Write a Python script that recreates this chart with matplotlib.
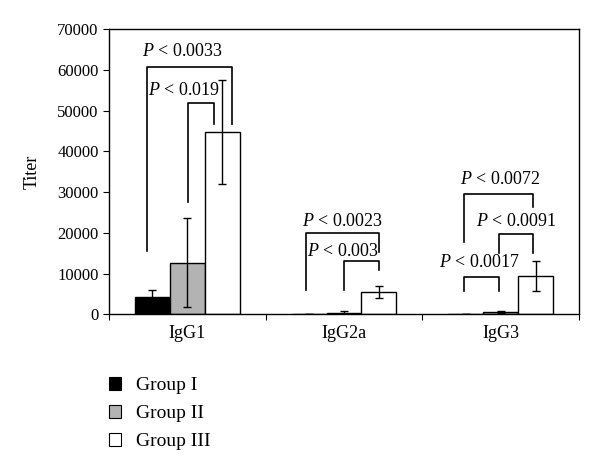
import matplotlib
matplotlib.use("Agg")
import matplotlib.pyplot as plt
from matplotlib.patches import Patch
import numpy as np

plt.rcParams['font.family'] = ['Liberation Serif', 'DejaVu Serif']
plt.rcParams['mathtext.fontset'] = 'custom'
plt.rcParams['mathtext.it'] = 'Liberation Serif:italic'
plt.rcParams['mathtext.rm'] = 'Liberation Serif'

# data
categories = ['IgG1', 'IgG2a', 'IgG3']
groups = ['Group I', 'Group II', 'Group III']
colors = ['#000000', '#b3b3b3', '#ffffff']
titer = {
    'Group I':   [4300, 150, 50],
    'Group II':  [12700, 400, 500],
    'Group III': [44700, 5500, 9500],
}
err = {
    'Group I':   [1700, 0, 0],
    'Group II':  [11000, 300, 300],
    'Group III': [12800, 1500, 3700],
}

# brackets: (x_left, x_right, y_top, y_left_end, y_right_end) in category units
brackets = [
    (0.24, 0.783, 60800, 15600, 46700),
    (0.501, 0.667, 51900, 27700, 46700),
    (1.255, 1.726, 19900, 6000, 15400),
    (1.497, 1.726, 13100, 6000, 10900),
    (2.268, 2.709, 29500, 17700, 26400),
    (2.490, 2.709, 19700, 15000, 15000),
    (2.268, 2.490, 9200, 5700, 5700),
]
p_labels = ['0.0033', '0.019', '0.0023', '0.003', '0.0072', '0.0091', '0.0017']
p_pos = [(0.471, 64600), (0.477, 55000), (1.490, 22700), (1.494, 15500),
         (2.498, 33200), (2.601, 22900), (2.363, 12800)]

fig = plt.figure(figsize=(6, 4.7), dpi=100)
ax = fig.add_axes([0.1817, 0.3313, 0.965 - 0.1817, 0.9377 - 0.3313])

w = 0.223
centers = np.arange(len(categories)) + 0.5
for i, g in enumerate(groups):
    ax.bar(centers + (i - 1) * w, titer[g], width=w, color=colors[i],
           edgecolor='black', linewidth=1.0, zorder=2)
    ax.errorbar(centers + (i - 1) * w, titer[g], yerr=err[g], fmt='none',
                ecolor='black', elinewidth=1.0, capsize=3, capthick=1.0, zorder=3)

for (xl, xr, yt, yl, yr) in brackets:
    ax.plot([xl, xl, xr, xr], [yl, yt, yt, yr], color='black', lw=1.2, zorder=4)

for lab, (x, y) in zip(p_labels, p_pos):
    ax.text(x, y, r'$P$' + ' < ' + lab, ha='center', va='center',
            fontsize=13, zorder=5)

ax.set_xlim(0, 3)
ax.set_ylim(0, 70000)
ax.set_yticks(np.arange(0, 70001, 10000))
ax.tick_params(axis='y', direction='out', length=4, labelsize=12)
ax.set_xticks([0, 1, 2, 3])
ax.set_xticklabels([])
ax.set_xticks(centers, minor=True)
ax.set_xticklabels(categories, minor=True, fontsize=13)
ax.tick_params(axis='x', which='major', direction='out', length=4)
ax.tick_params(axis='x', which='minor', length=0, pad=8)
ax.set_ylabel('Titer', fontsize=13, labelpad=12)
for s in ax.spines.values():
    s.set_linewidth(1.0)

handles = [Patch(facecolor=c, edgecolor='black', linewidth=0.8) for c in colors]
fig.legend(handles, groups, loc='upper left', bbox_to_anchor=(0.168, 0.2145),
           frameon=False, fontsize=14, handlelength=0.65, handleheight=0.65,
           handletextpad=0.75, labelspacing=0.55, borderaxespad=0)

fig.savefig('out.png', dpi=100)
